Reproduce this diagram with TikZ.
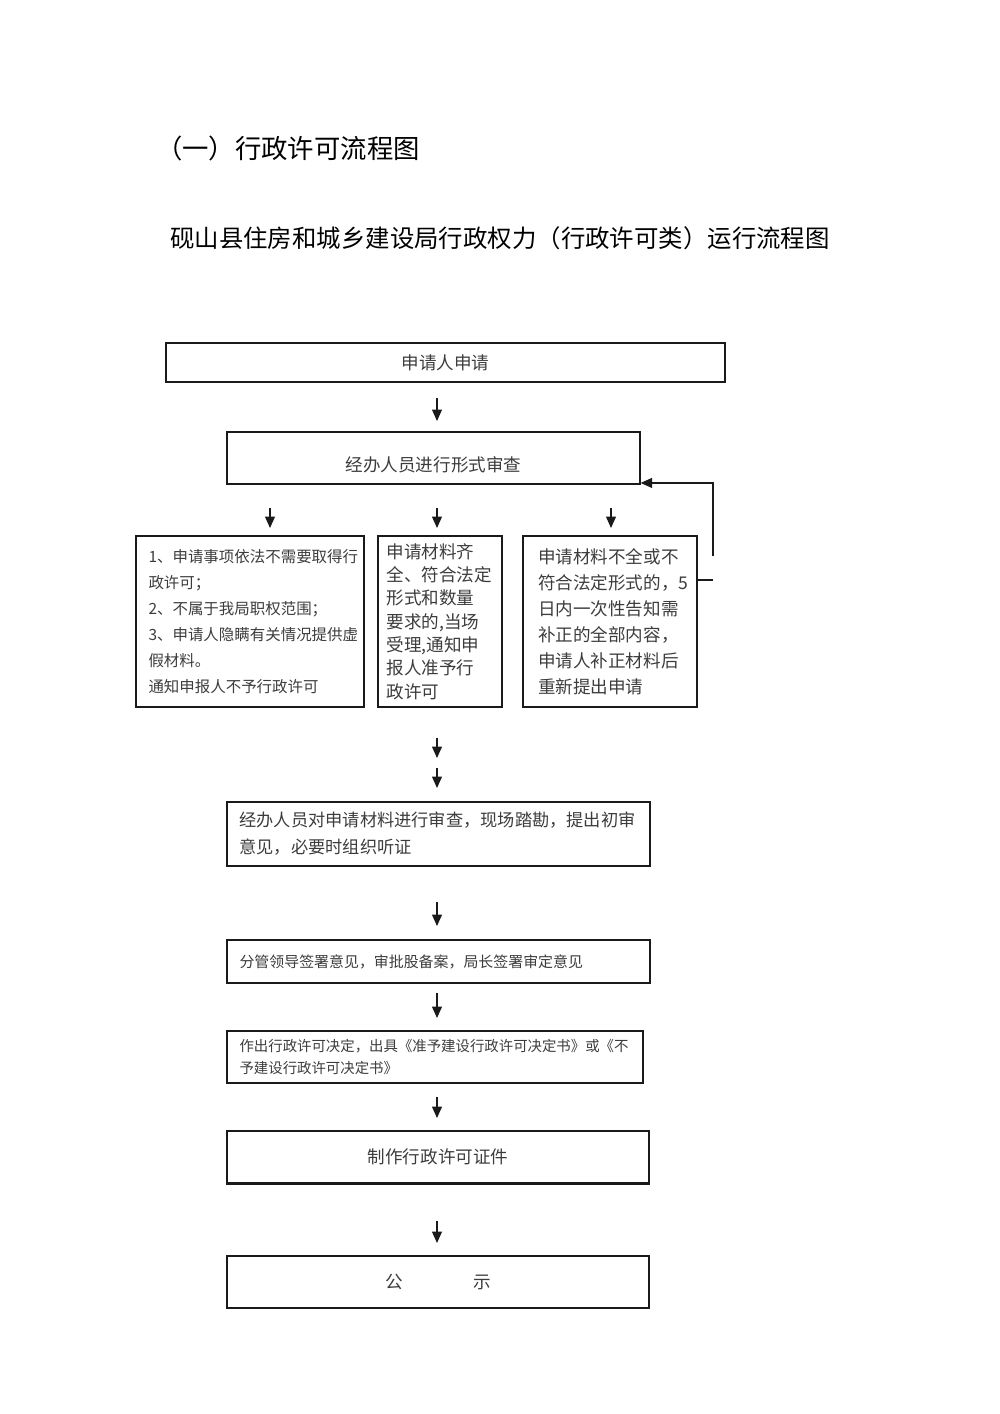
\documentclass[tikz,border=0pt]{standalone}
\usepackage{fontspec}
\setmainfont{Noto Sans CJK SC}
\usepackage{xcolor}
\usepackage{tikz}
\usetikzlibrary{calc,arrows.meta,positioning}
\definecolor{inkx}{HTML}{3C3C3C}
\definecolor{linex}{HTML}{1A1A1A}
\tikzset{
  ar/.style={-{Triangle[length=2.3mm,width=2mm]},line width=0.7pt,linex},
  box/.style={draw=linex,line width=0.8pt,text=inkx,align=center,inner sep=0pt},
  lbox/.style={box,align=left,inner xsep=0.25cm}
}

\begin{document}
\begin{tikzpicture}[x=0.02cm,y=-0.02cm]
\useasboundingbox (0,0) rectangle (1000,1414);
% titles
\node[anchor=west,font=\fontsize{15}{18}\selectfont] (t1) at (150,148) {（一）行政许可流程图};
\node[font=\fontsize{13.9}{17}\selectfont] (t2) at (500,238) {砚山县住房和城乡建设局行政权力（行政许可类）运行流程图};
% boxes
\node[box,minimum width=11.18cm,minimum height=0.78cm,font=\fontsize{10}{12}\selectfont] (apply) at (445.5,362.5) {申请人申请};
\node[box,minimum width=8.26cm,minimum height=1.04cm,text height=0.55cm,text depth=0pt,font=\fontsize{10}{12}\selectfont] (form) at (433.5,458) {经办人员进行形式审查};
\node[lbox,minimum width=4.56cm,minimum height=3.42cm,text width=4.06cm,font=\fontsize{8.8}{14.8}\selectfont] (refuse) at (250,621.5)
  {1、申请事项依法不需要取得行\\政许可；\\2、不属于我局职权范围；\\3、申请人隐瞒有关情况提供虚\\假材料。\\通知申报人不予行政许可};
\node[lbox,inner xsep=0.17cm,minimum width=2.48cm,minimum height=3.42cm,text width=2.14cm,font=\fontsize{10}{13.3}\selectfont] (accept) at (440,621.5)
  {申请材料齐\\全、符合法定\\形式和数量\\要求的,当场\\受理,通知申\\报人准予行\\政许可};
\node[lbox,inner xsep=0.3cm,minimum width=3.48cm,minimum height=3.42cm,text width=2.88cm,font=\fontsize{10}{14.8}\selectfont] (amend) at (610,621.5)
  {申请材料不全或不\\符合法定形式的，5\\日内一次性告知需\\补正的全部内容，\\申请人补正材料后\\重新提出申请};
\node[lbox,minimum width=8.46cm,minimum height=1.28cm,text width=7.96cm,font=\fontsize{9.8}{15.4}\selectfont] (review) at (438.5,834)
  {经办人员对申请材料进行审查，现场踏勘，提出初审\\意见，必要时组织听证};
\node[lbox,minimum width=8.46cm,minimum height=0.86cm,text width=7.96cm,font=\fontsize{8.5}{11}\selectfont] (sign) at (438.5,961.5)
  {分管领导签署意见，审批股备案，局长签署审定意见};
\node[lbox,minimum width=8.32cm,minimum height=1.04cm,text width=7.82cm,font=\fontsize{8.2}{12.5}\selectfont] (decide) at (435,1057)
  {作出行政许可决定，出具《准予建设行政许可决定书》或《不\\予建设行政许可决定书》};
\node[box,minimum width=8.44cm,minimum height=1.04cm,font=\fontsize{10}{12}\selectfont] (cert) at (438,1157) {制作行政许可证件};
\draw[line width=1.4pt,linex] (cert.south west) -- (cert.south east);
\node[box,minimum width=8.44cm,minimum height=1.04cm,font=\fontsize{10}{12}\selectfont] (publish) at (438,1282) {公\hspace{4em}示};
% arrows
\coordinate (a1) at (437,398);   \coordinate (b1) at (437,421);
\coordinate (a2) at (270,508);   \coordinate (b2) at (270,528);
\coordinate (a3) at (437,508);   \coordinate (b3) at (437,528);
\coordinate (a4) at (611,508);   \coordinate (b4) at (611,528);
\coordinate (a5) at (437,738);   \coordinate (b5) at (437,758);
\coordinate (a6) at (437,768);   \coordinate (b6) at (437,788);
\coordinate (a7) at (437,902);   \coordinate (b7) at (437,926);
\coordinate (a8) at (437,993);   \coordinate (b8) at (437,1018);
\coordinate (a9) at (437,1097);  \coordinate (b9) at (437,1118);
\coordinate (a10) at (437,1221); \coordinate (b10) at (437,1243);
\foreach \i in {1,...,10}
  \draw[ar] (a\i) -- (b\i);
% feedback
\coordinate (fbtop) at (713,556);
\coordinate (fbout) at (713,580);
\draw[line width=0.7pt,linex] (amend.east |- fbout) -- (fbout);
\draw[ar] (fbtop) |- ([yshift=1pt]form.south east);
\end{tikzpicture}
\end{document}
